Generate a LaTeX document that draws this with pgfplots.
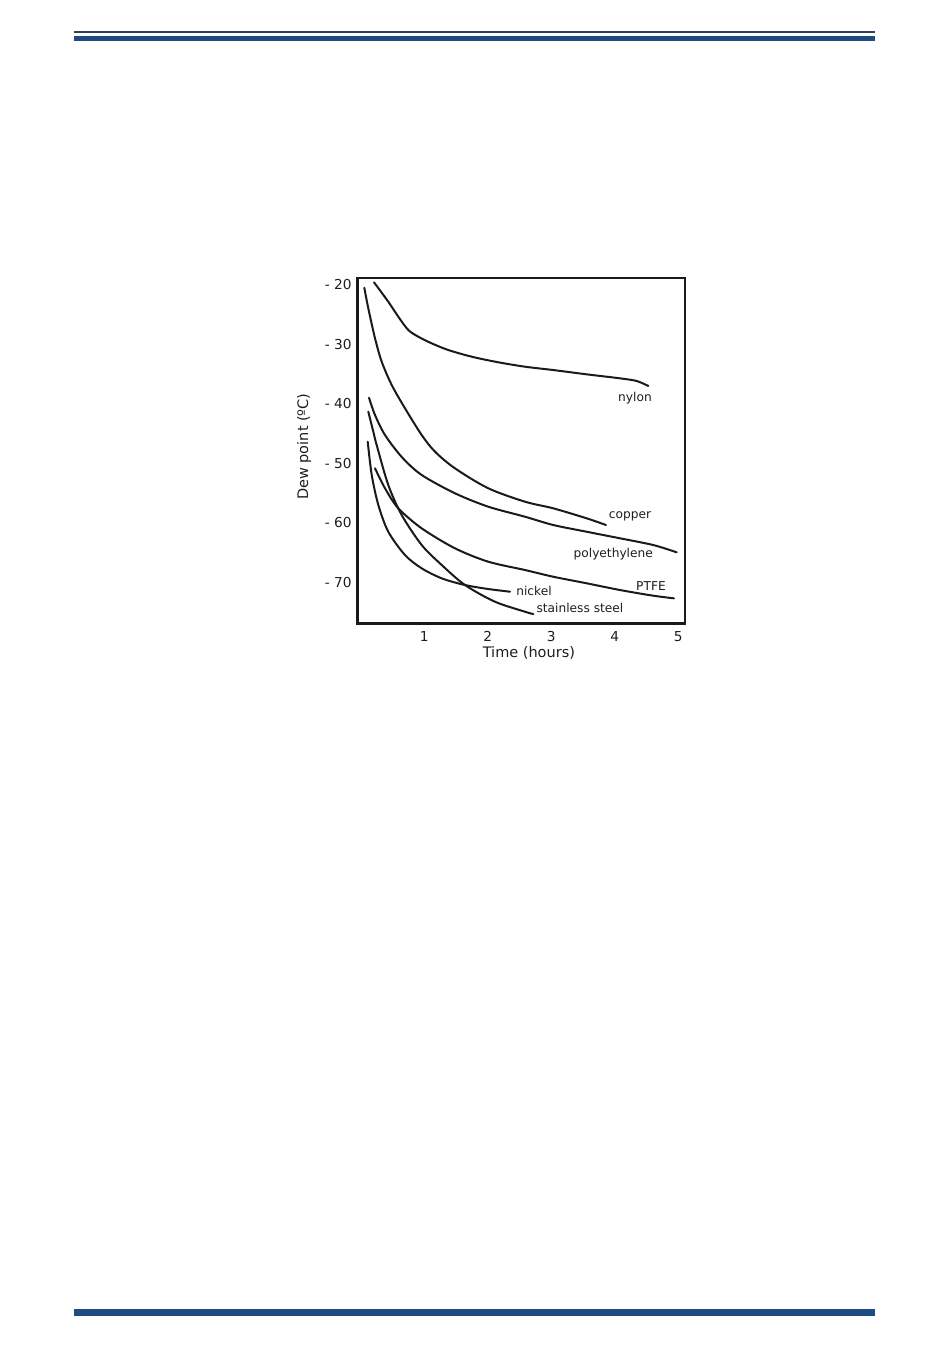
\documentclass[border=0pt]{standalone}
\usepackage{fontspec}
\setmainfont{DejaVu Sans}
\usepackage{pgfplots}
\pgfplotsset{compat=1.18}
\definecolor{navythin}{HTML}{2D4061}
\definecolor{navythick}{HTML}{1F4C80}
\definecolor{curve}{HTML}{1A1A1A}
\definecolor{txt}{HTML}{1E1E1E}
\tikzset{crv/.style={color=curve, line width=2pt, solid, mark=none, smooth, line cap=round, line join=round}}
\begin{document}
\begin{tikzpicture}[x=1pt,y=1pt]
\path[use as bounding box, fill=white] (0,0) rectangle (950,-1360);
\fill[navythin] (74,-31.2) rectangle (875,-32.8);
\fill[navythick] (74,-35.7) rectangle (875,-40.7);
\fill[navythick] (74,-1309) rectangle (875,-1315.7);
\begin{axis}[
  at={(357.5pt,-623.7pt)}, anchor=south west,
  scale only axis, width=327.7pt, height=345.9pt,
  xmin=-0.052, xmax=5.109, ymin=-76.91, ymax=-18.876,
  xtick={1,2,3,4,5}, xticklabels={1,2,3,4,5},
  ytick={-70,-60,-50,-40,-30,-20},
  yticklabels={- 70,- 60,- 50,- 40,- 30,- 20},
  major tick length=0pt,
  tick label style={font=\fontsize{13.7}{16}\selectfont, text=txt, inner sep=0pt},
  xticklabel style={anchor=base, yshift=-18pt},
  yticklabel style={anchor=base east, xshift=-5.8pt, yshift=-5pt},
  axis line style={line width=2.5pt, color=curve},
  xlabel={Time (hours)}, ylabel={Dew point (ºC)},
  label style={font=\fontsize{14.5}{17}\selectfont, text=txt},
  xlabel style={at={(rel axis cs:0.523,-0.0856)}, anchor=center},
  ylabel style={at={(rel axis cs:-0.163,0.512)}, anchor=center},
  clip=false,
]
% nylon
\addplot[crv] coordinates {(0.208,-19.63) (0.433,-22.89) (0.600,-25.55) (0.748,-27.63) (0.906,-28.76) (1.116,-29.87) (1.378,-30.99) (1.746,-32.11) (2.165,-33.05) (2.586,-33.79) (3.031,-34.35) (3.557,-35.07) (4.081,-35.74) (4.345,-36.19) (4.528,-37.03)};
% copper
\addplot[crv] coordinates {(0.055,-20.54) (0.118,-23.99) (0.224,-29.03) (0.329,-32.95) (0.487,-36.86) (0.696,-40.77) (0.959,-45.25) (1.169,-48.05) (1.483,-50.84) (2.008,-54.19) (2.586,-56.44) (3.031,-57.55) (3.557,-59.23) (3.861,-60.35)};
% polyethylene
\addplot[crv] coordinates {(0.129,-39.0) (0.224,-41.9) (0.381,-45.25) (0.650,-49.0) (0.959,-51.96) (1.483,-55.03) (2.008,-57.28) (2.586,-58.96) (3.031,-60.35) (3.557,-61.48) (4.082,-62.58) (4.606,-63.71) (4.975,-64.93)};
% PTFE
\addplot[crv] coordinates {(0.224,-50.84) (0.381,-54.19) (0.591,-57.55) (0.959,-60.91) (1.483,-64.26) (2.008,-66.51) (2.586,-67.90) (3.031,-69.03) (3.557,-70.13) (4.082,-71.26) (4.606,-72.21) (4.932,-72.65)};
% stainless steel
\addplot[crv] coordinates {(0.118,-41.34) (0.197,-44.70) (0.250,-46.93) (0.433,-53.64) (0.644,-58.67) (0.959,-63.71) (1.274,-67.06) (1.641,-70.42) (2.113,-73.22) (2.586,-74.90) (2.717,-75.29)};
% nickel
\addplot[crv] coordinates {(0.109,-46.38) (0.172,-51.96) (0.276,-56.99) (0.433,-61.48) (0.696,-65.39) (0.959,-67.62) (1.274,-69.30) (1.641,-70.42) (2.008,-71.09) (2.350,-71.54)};
\begin{scope}[every node/.style={font=\fontsize{12.2}{14}\selectfont, text=txt, inner sep=0pt, anchor=center}]
\node at (axis cs:4.318,-38.99) {nylon};
\node at (axis cs:4.239,-58.96) {copper};
\node at (axis cs:3.976,-65.22) {polyethylene};
\node at (axis cs:4.570,-70.54) {PTFE};
\node at (axis cs:2.728,-71.38) {nickel};
\node at (axis cs:3.452,-74.33) {stainless steel};
\end{scope}
\end{axis}
\end{tikzpicture}
\end{document}
